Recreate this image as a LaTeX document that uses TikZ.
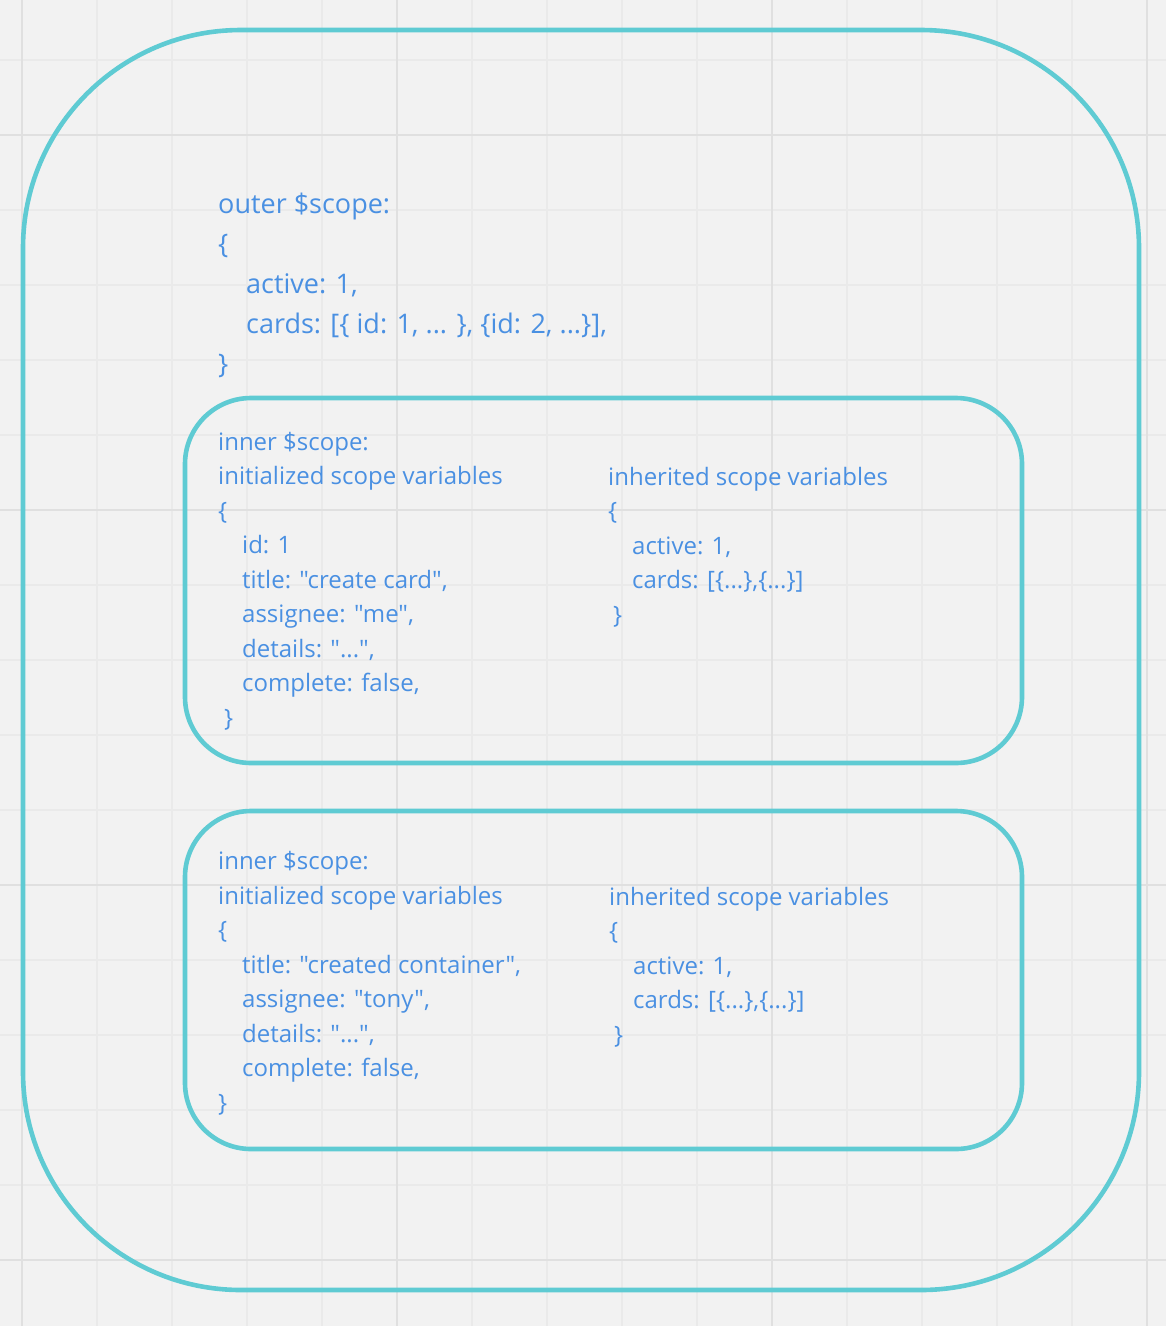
\documentclass[tikz,border=0pt]{standalone}
\usepackage{fontspec}
\setmainfont{Open Sans}[Ligatures=TeXOff]
\usepackage{xcolor}
\usepackage{tikz}
\usetikzlibrary{positioning}

\definecolor{boardbg}{RGB}{242,242,242}
\definecolor{gridminor}{RGB}{234,234,234}
\definecolor{gridmajor}{RGB}{224,224,224}
\definecolor{scopeline}{RGB}{95,203,211}
\definecolor{scopetext}{RGB}{74,144,226}

\begin{document}
\begin{tikzpicture}[
  x=1pt, y=-1pt,
  minor/.style={draw=gridminor, line width=1.6pt},
  major/.style={draw=gridmajor, line width=2.2pt},
  scopebox/.style={draw=scopeline, line width=4.6pt},
  outertxt/.style={anchor=base west, inner sep=0pt, align=left, text=scopetext,
    font=\fontsize{27}{40}\selectfont},
  innertxt/.style={anchor=base west, inner sep=0pt, align=left, text=scopetext,
    font=\fontsize{24}{34.5}\selectfont}
]
  \useasboundingbox (0,0) rectangle (1166,1326);
  \fill[boardbg] (0,0) rectangle (1166,1326);
  % board grid
  \foreach \gx in {22,97,...,1147}
    \draw[minor] (\gx,0) -- (\gx,1326);
  \foreach \gy in {60,135,...,1260}
    \draw[minor] (0,\gy) -- (1166,\gy);
  \foreach \gx in {22,397,772,1147}
    \draw[major] (\gx,0) -- (\gx,1326);
  \foreach \gy in {135,510,885,1260}
    \draw[major] (0,\gy) -- (1166,\gy);

  % scope outlines
  \draw[scopebox, rounded corners=218pt] (23,30) rectangle (1139,1290);
  \draw[scopebox, rounded corners=66pt] (185,398) rectangle (1022,763);
  \draw[scopebox, rounded corners=66pt] (185,811) rectangle (1022,1149);

  % outer scope (base = last line)
  \node[outertxt] (outer) at (218,373) {outer \$scope:\\
    \{\\
    \hspace*{28pt}active: 1,\\
    \hspace*{28pt}cards: [\{ id: 1, ... \}, \{id: 2, ...\}],\\
    \}};

  % first inner scope
  \node[innertxt] (initA) at (218,726) {inner \$scope:\\
    initialized scope variables\\
    \{\\
    \hspace*{24pt}id: 1\\
    \hspace*{24pt}title: "create card",\\
    \hspace*{24pt}assignee: "me",\\
    \hspace*{24pt}details: "...",\\
    \hspace*{24pt}complete: false,\\
    \hspace*{6pt}\}};
  \node[innertxt] (inhA) at (608,623) {inherited scope variables\\
    \{\\
    \hspace*{24pt}active: 1,\\
    \hspace*{24pt}cards: [\{...\},\{...\}]\\
    \hspace*{5pt}\}};

  % second inner scope
  \node[innertxt] (initB) at (218,1111) {inner \$scope:\\
    initialized scope variables\\
    \{\\
    \hspace*{24pt}title: "created container",\\
    \hspace*{24pt}assignee: "tony",\\
    \hspace*{24pt}details: "...",\\
    \hspace*{24pt}complete: false,\\
    \}};
  \node[innertxt] (inhB) at (609,1043) {inherited scope variables\\
    \{\\
    \hspace*{24pt}active: 1,\\
    \hspace*{24pt}cards: [\{...\},\{...\}]\\
    \hspace*{5pt}\}};
\end{tikzpicture}
\end{document}
